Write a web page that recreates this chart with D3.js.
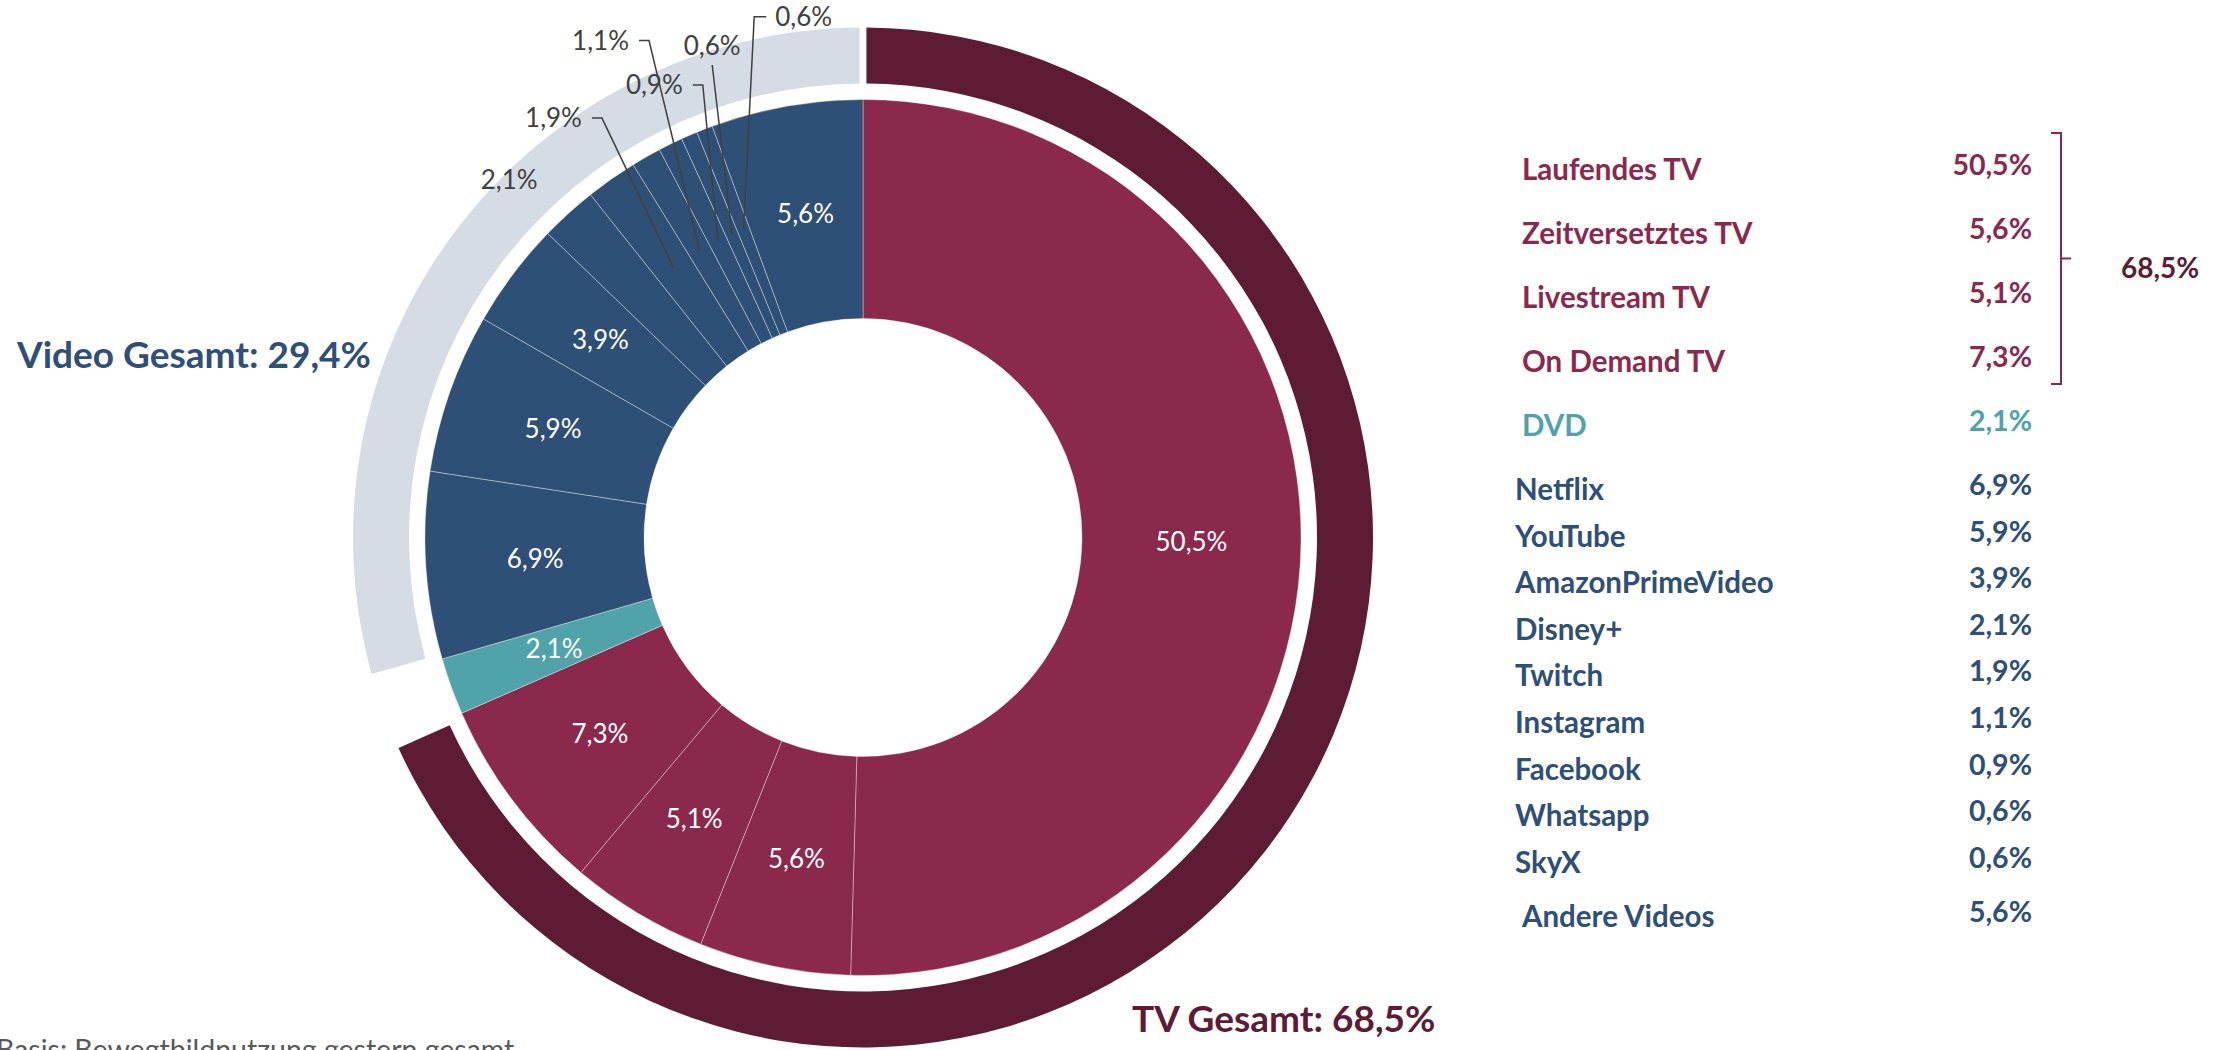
<!DOCTYPE html>
<html>
<head>
<meta charset="utf-8">
<script src="https://cdn.jsdelivr.net/npm/d3@7"></script>
<style>
  body { margin: 0; background: #fff; }
  svg { display: block; font-family: Lato, "Open Sans", sans-serif; }
</style>
</head>
<body>
<div id="chart"></div>
<script>
// slices of the inner donut, clockwise from 12 o'clock
var sliceNames = ["Laufendes TV", "Zeitversetztes TV", "Livestream TV", "On Demand TV", "DVD",
  "Netflix", "YouTube", "AmazonPrimeVideo", "Disney+", "Twitch", "Instagram", "Facebook",
  "Whatsapp", "SkyX", "Andere Videos"];
var sliceValues = [50.5, 5.6, 5.1, 7.3, 2.1, 6.9, 5.9, 3.9, 2.1, 1.9, 1.1, 0.9, 0.6, 0.6, 5.6];
var sliceGroups = ["tv", "tv", "tv", "tv", "dvd", "video", "video", "video", "video", "video",
  "video", "video", "video", "video", "video"];

// outer ring totals
var groupKeys = ["tv", "dvd", "video"];
var groupNames = ["TV Gesamt", "DVD", "Video Gesamt"];
var groupValues = [68.5, 2.1, 29.4];

var width = 2220, height = 1050;
var cx = 863, cy = 537.5;

var fillInner = { tv: "#8b294d", dvd: "#4fa3a9", video: "#2e5077" };
var fillOuter = { tv: "#5e1b35", dvd: "none", video: "#d5dce4" };
var textCol = { tv: "#8b294d", dvd: "#4fa3a9", video: "#2e5077" };

var de = d3.formatLocale({ decimal: ",", thousands: ".", grouping: [3], currency: ["", " €"] });
var pct = function (v) { return de.format(".1f")(v) + "%"; };

// hand placed call-outs for the thin slices (polar: radius / degrees from top)
var callouts = {
  8: { r: 503, deg: -44.7, side: "none" },
  9: { r: 494, deg: -31.9, side: "left" },
  10: { r: 541, deg: -23.3, side: "left" },
  11: { r: 480, deg: -19.5, side: "left" },
  12: { r: 496, deg: -17.7, side: "up" },
  13: { r: 532, deg: -11.8, side: "right" }
};

var svg = d3.select("#chart").append("svg")
  .attr("width", width)
  .attr("height", height);

var g = svg.append("g").attr("transform", "translate(" + cx + "," + cy + ")");

var data = sliceNames.map(function (n, i) {
  return { name: n, value: sliceValues[i], group: sliceGroups[i], idx: i };
});

var pie = d3.pie().sort(null).value(function (d) { return d.value; });
var arcInner = d3.arc().innerRadius(219).outerRadius(438);

// inner donut
var arcs = pie(data);
g.selectAll("path.slice")
  .data(arcs)
  .enter()
  .append("path")
  .attr("class", "slice")
  .attr("d", arcInner)
  .attr("fill", function (d) { return fillInner[d.data.group]; })
  .attr("stroke", "rgba(255,255,255,0.45)")
  .attr("stroke-width", 0.8);

// outer ring
var groups = groupKeys.map(function (k, i) { return { key: k, name: groupNames[i], value: groupValues[i] }; });
var arcOuter = d3.arc().innerRadius(454).outerRadius(510);
g.selectAll("path.ring")
  .data(pie.padAngle(0.01)(groups))
  .enter()
  .append("path")
  .attr("class", "ring")
  .attr("d", arcOuter)
  .attr("fill", function (d) { return fillOuter[d.data.key]; });

// labels inside the slices
g.selectAll("text.inlbl")
  .data(arcs.filter(function (d) { return !callouts[d.data.idx]; }))
  .enter()
  .append("text")
  .attr("class", "inlbl")
  .attr("transform", function (d) { return "translate(" + arcInner.centroid(d) + ")"; })
  .attr("text-anchor", "middle")
  .attr("dy", "0.35em")
  .attr("fill", "#fff")
  .style("font-size", "26px")
  .text(function (d) { return pct(d.data.value); });

// call-outs outside
function polar(r, deg) {
  var a = deg * Math.PI / 180;
  return [r * Math.sin(a), -r * Math.cos(a)];
}
arcs.forEach(function (d) {
  var c = callouts[d.data.idx];
  if (!c) return;
  var k = polar(c.r, c.deg);
  var mid = (d.startAngle + d.endAngle) / 2;
  var tip = [330 * Math.sin(mid), -330 * Math.cos(mid)];
  var t = g.append("text")
    .attr("fill", "#404040")
    .style("font-size", "26px")
    .text(pct(d.data.value));
  var pts;
  if (c.side === "none") {
    t.attr("x", k[0]).attr("y", k[1]).attr("dy", "0.35em").attr("text-anchor", "middle");
    return;
  } else if (c.side === "left") {
    pts = [[k[0] - 10, k[1]], k, tip];
    t.attr("x", k[0] - 20).attr("y", k[1]).attr("dy", "0.35em").attr("text-anchor", "end");
  } else if (c.side === "right") {
    pts = [[k[0] + 12, k[1]], k, tip];
    t.attr("x", k[0] + 21).attr("y", k[1]).attr("dy", "0.35em").attr("text-anchor", "start");
  } else {
    pts = [k, tip];
    t.attr("x", k[0]).attr("y", k[1] - 10).attr("text-anchor", "middle");
  }
  g.append("path")
    .attr("d", d3.line()(pts))
    .attr("fill", "none")
    .attr("stroke", "#404040")
    .attr("stroke-width", 1.5);
});

// big totals
svg.append("text")
  .attr("x", 17).attr("y", 368)
  .attr("fill", "#2e5077")
  .style("font-size", "37px").style("font-weight", "bold")
  .text(groupNames[2] + ": " + pct(groupValues[2]));
svg.append("text")
  .attr("x", 1132).attr("y", 1032)
  .attr("fill", "#5e1b35")
  .style("font-size", "37px").style("font-weight", "bold")
  .text(groupNames[0] + ": " + pct(groupValues[0]));

// legend table on the right
function rowY(i) {
  if (i < 5) return 180 + i * 64;
  if (i < 14) return 500 + (i - 5) * 46.6;
  return 927;
}
var leg = svg.append("g").attr("class", "legend");
data.forEach(function (d, i) {
  var y = rowY(i);
  var lx = (d.group === "video" && i < 14) ? 1515 : 1522;
  leg.append("text")
    .attr("x", lx).attr("y", y)
    .attr("fill", textCol[d.group])
    .style("font-size", "29.5px").style("font-weight", "bold")
    .text(d.name);
  leg.append("text")
    .attr("x", 2032).attr("y", y - 5)
    .attr("text-anchor", "end")
    .attr("fill", textCol[d.group])
    .style("font-size", "28.5px").style("font-weight", "bold")
    .text(pct(d.value));
});

// bracket around the TV rows
var bTop = rowY(0) - 47, bBot = rowY(3) + 12, bMid = (bTop + bBot) / 2, bx = 2061;
leg.append("path")
  .attr("d", "M" + (bx - 10) + "," + bTop + "H" + bx + "V" + bBot + "H" + (bx - 10) +
    "M" + bx + "," + bMid + "H" + (bx + 10))
  .attr("fill", "none")
  .attr("stroke", "#8b294d")
  .attr("stroke-width", 2);
leg.append("text")
  .attr("x", 2121).attr("y", bMid + 19)
  .attr("fill", "#5e1b35")
  .style("font-size", "28px").style("font-weight", "bold")
  .text(pct(groupValues[0]));

// footnote, cut by the lower edge
svg.append("text")
  .attr("x", -4).attr("y", 1060)
  .attr("fill", "#595959")
  .style("font-size", "28.5px")
  .text("Basis: Bewegtbildnutzung gestern gesamt");
</script>
</body>
</html>
